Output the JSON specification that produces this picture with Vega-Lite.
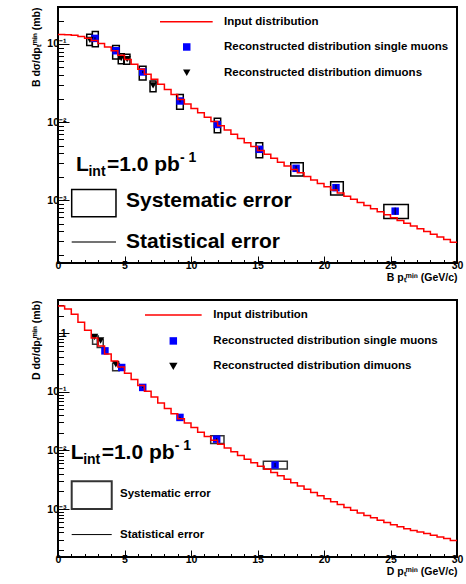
{
  "$schema": "https://vega.github.io/schema/vega-lite/v6.json",
  "background": "white",
  "padding": {"left": 30, "top": 5, "right": 4, "bottom": 4},
  "spacing": 14,
  "config": {
    "font": "Liberation Sans",
    "view": {"stroke": "black", "strokeWidth": 2},
    "axis": {"labelFont": "Liberation Sans", "labelFontWeight": "bold", "labelFontSize": 10.5, "labelColor": "black", "titleFont": "Liberation Sans", "titleFontWeight": "bold", "titleFontSize": 10.5, "titleColor": "black", "domain": false, "grid": false, "tickColor": "black", "tickWidth": 1, "zindex": 1, "labelFlush": false, "labelOverlap": false}
  },
  "datasets": {
    "curveTop": [
      {"x": 0, "v": 0.1326}, {"x": 0.5, "v": 0.1317}, {"x": 1, "v": 0.1291}, {"x": 1.5, "v": 0.125}, {"x": 2, "v": 0.1189}, {"x": 2.5, "v": 0.1109}, {"x": 3, "v": 0.1017}, {"x": 3.5, "v": 0.0917}, {"x": 4, "v": 0.0818}, {"x": 4.5, "v": 0.072},
      {"x": 5, "v": 0.0631}, {"x": 5.5, "v": 0.055}, {"x": 6, "v": 0.0476}, {"x": 6.5, "v": 0.041}, {"x": 7, "v": 0.0353}, {"x": 7.5, "v": 0.0304}, {"x": 8, "v": 0.0262}, {"x": 8.5, "v": 0.0225}, {"x": 9, "v": 0.0195}, {"x": 9.5, "v": 0.017},
      {"x": 10, "v": 0.01488}, {"x": 10.5, "v": 0.01311}, {"x": 11, "v": 0.01155}, {"x": 11.5, "v": 0.01017}, {"x": 12, "v": 0.00897}, {"x": 12.5, "v": 0.0079}, {"x": 13, "v": 0.00696}, {"x": 13.5, "v": 0.00613}, {"x": 14, "v": 0.00543}, {"x": 14.5, "v": 0.00484},
      {"x": 15, "v": 0.00432}, {"x": 15.5, "v": 0.00385}, {"x": 16, "v": 0.00343}, {"x": 16.5, "v": 0.00305}, {"x": 17, "v": 0.00274}, {"x": 17.5, "v": 0.00247}, {"x": 18, "v": 0.00223}, {"x": 18.5, "v": 0.00201}, {"x": 19, "v": 0.00181}, {"x": 19.5, "v": 0.00163},
      {"x": 20, "v": 0.00148}, {"x": 20.5, "v": 0.00135}, {"x": 21, "v": 0.00123}, {"x": 21.5, "v": 0.00112}, {"x": 22, "v": 0.001023}, {"x": 22.5, "v": 0.000933}, {"x": 23, "v": 0.000851}, {"x": 23.5, "v": 0.000776}, {"x": 24, "v": 0.000708}, {"x": 24.5, "v": 0.000646},
      {"x": 25, "v": 0.000592}, {"x": 25.5, "v": 0.000546}, {"x": 26, "v": 0.000504}, {"x": 26.5, "v": 0.000465}, {"x": 27, "v": 0.000429}, {"x": 27.5, "v": 0.000396}, {"x": 28, "v": 0.000365}, {"x": 28.5, "v": 0.000337}, {"x": 29, "v": 0.000311}, {"x": 29.5, "v": 0.000287},
      {"x": 30, "v": 0.000287}
    ],
    "curveBot": [
      {"x": 0, "v": 2.917}, {"x": 0.5, "v": 2.6}, {"x": 1, "v": 2.101}, {"x": 1.5, "v": 1.54}, {"x": 2, "v": 1.128}, {"x": 2.5, "v": 0.827}, {"x": 3, "v": 0.606}, {"x": 3.5, "v": 0.444}, {"x": 4, "v": 0.337}, {"x": 4.5, "v": 0.2646},
      {"x": 5, "v": 0.2077}, {"x": 5.5, "v": 0.1631}, {"x": 6, "v": 0.1288}, {"x": 6.5, "v": 0.1023}, {"x": 7, "v": 0.0813}, {"x": 7.5, "v": 0.0646}, {"x": 8, "v": 0.0519}, {"x": 8.5, "v": 0.0422}, {"x": 9, "v": 0.0349}, {"x": 9.5, "v": 0.0293},
      {"x": 10, "v": 0.02455}, {"x": 10.5, "v": 0.02042}, {"x": 11, "v": 0.01728}, {"x": 11.5, "v": 0.01488}, {"x": 12, "v": 0.01281}, {"x": 12.5, "v": 0.01103}, {"x": 13, "v": 0.0095}, {"x": 13.5, "v": 0.00818}, {"x": 14, "v": 0.00708}, {"x": 14.5, "v": 0.00617},
      {"x": 15, "v": 0.0054}, {"x": 15.5, "v": 0.00476}, {"x": 16, "v": 0.00419}, {"x": 16.5, "v": 0.00369}, {"x": 17, "v": 0.00324}, {"x": 17.5, "v": 0.00282}, {"x": 18, "v": 0.00247}, {"x": 18.5, "v": 0.00218}, {"x": 19, "v": 0.00192}, {"x": 19.5, "v": 0.00169},
      {"x": 20, "v": 0.0015}, {"x": 20.5, "v": 0.00133}, {"x": 21, "v": 0.00119}, {"x": 21.5, "v": 0.00106}, {"x": 22, "v": 0.00095}, {"x": 22.5, "v": 0.000856}, {"x": 23, "v": 0.000776}, {"x": 23.5, "v": 0.000708}, {"x": 24, "v": 0.000646}, {"x": 24.5, "v": 0.000589},
      {"x": 25, "v": 0.00054}, {"x": 25.5, "v": 0.000498}, {"x": 26, "v": 0.000462}, {"x": 26.5, "v": 0.000432}, {"x": 27, "v": 0.000405}, {"x": 27.5, "v": 0.000382}, {"x": 28, "v": 0.000359}, {"x": 28.5, "v": 0.000335}, {"x": 29, "v": 0.000313}, {"x": 29.5, "v": 0.000292},
      {"x": 30, "v": 0.000292}
    ],
    "ptsTop": [
      {"kind": "single", "pt": 2.78, "v": 0.118, "lo": 0.114, "hi": 0.122}, {"kind": "single", "pt": 4.36, "v": 0.082, "lo": 0.0795, "hi": 0.0845}, {"kind": "single", "pt": 6.37, "v": 0.0438, "lo": 0.0423, "hi": 0.0453}, {"kind": "single", "pt": 9.17, "v": 0.0186, "lo": 0.0179, "hi": 0.0193}, {"kind": "single", "pt": 11.98, "v": 0.0093, "lo": 0.0089, "hi": 0.0097},
      {"kind": "single", "pt": 15.14, "v": 0.00447, "lo": 0.0042, "hi": 0.0047}, {"kind": "single", "pt": 17.9, "v": 0.00255, "lo": 0.00236, "hi": 0.00274}, {"kind": "single", "pt": 20.9, "v": 0.00144, "lo": 0.00132, "hi": 0.00157}, {"kind": "single", "pt": 25.35, "v": 0.00072, "lo": 0.00065, "hi": 0.0008},
      {"kind": "dimuon", "pt": 2.4, "v": 0.113, "lo": 0.11, "hi": 0.116}, {"kind": "dimuon", "pt": 4.75, "v": 0.066, "lo": 0.064, "hi": 0.068}, {"kind": "dimuon", "pt": 5.2, "v": 0.064, "lo": 0.062, "hi": 0.066}, {"kind": "dimuon", "pt": 7.15, "v": 0.0295, "lo": 0.0282, "hi": 0.0308}
    ],
    "ptsBot": [
      {"kind": "single", "pt": 3.53, "v": 0.5, "lo": 0.49, "hi": 0.51}, {"kind": "single", "pt": 4.79, "v": 0.26, "lo": 0.255, "hi": 0.265}, {"kind": "single", "pt": 6.37, "v": 0.119, "lo": 0.116, "hi": 0.122}, {"kind": "single", "pt": 9.17, "v": 0.0366, "lo": 0.0355, "hi": 0.0377}, {"kind": "single", "pt": 11.93, "v": 0.0156, "lo": 0.015, "hi": 0.0162}, {"kind": "single", "pt": 16.32, "v": 0.00564, "lo": 0.0052, "hi": 0.0061},
      {"kind": "dimuon", "pt": 2.75, "v": 0.86, "lo": 0.84, "hi": 0.88}, {"kind": "dimuon", "pt": 3.2, "v": 0.75, "lo": 0.73, "hi": 0.77}, {"kind": "dimuon", "pt": 4.35, "v": 0.295, "lo": 0.287, "hi": 0.303}
    ],
    "boxTop": [
      {"x1": 2.16, "x2": 2.58, "y1": 0.096, "y2": 0.133}, {"x1": 2.58, "x2": 3.03, "y1": 0.092, "y2": 0.145}, {"x1": 4.11, "x2": 4.61, "y1": 0.064, "y2": 0.096},
      {"x1": 4.53, "x2": 4.98, "y1": 0.056, "y2": 0.075}, {"x1": 4.94, "x2": 5.41, "y1": 0.055, "y2": 0.074}, {"x1": 6.11, "x2": 6.62, "y1": 0.0345, "y2": 0.052},
      {"x1": 6.92, "x2": 7.37, "y1": 0.0245, "y2": 0.0336}, {"x1": 8.92, "x2": 9.42, "y1": 0.01455, "y2": 0.0226}, {"x1": 11.75, "x2": 12.23, "y1": 0.0073, "y2": 0.01114},
      {"x1": 14.89, "x2": 15.39, "y1": 0.00348, "y2": 0.00543}, {"x1": 17.5, "x2": 18.44, "y1": 0.00203, "y2": 0.003}, {"x1": 20.5, "x2": 21.45, "y1": 0.00116, "y2": 0.00172},
      {"x1": 24.5, "x2": 26.34, "y1": 0.00058, "y2": 0.00088}
    ],
    "boxBot": [
      {"x1": 2.6, "x2": 3.03, "y1": 0.65, "y2": 0.9}, {"x1": 2.95, "x2": 3.4, "y1": 0.57, "y2": 0.79}, {"x1": 4.11, "x2": 4.61, "y1": 0.228, "y2": 0.308},
      {"x1": 11.48, "x2": 12.48, "y1": 0.0132, "y2": 0.0178}, {"x1": 15.44, "x2": 17.24, "y1": 0.00482, "y2": 0.00652}
    ]
  },
  "vconcat": [
    {
      "width": 399, "height": 256,
      "resolve": {"axis": {"x": "independent", "y": "independent"}},
      "layer": [
        {
          "data": {"values": [{}]},
          "mark": {"type": "point", "opacity": 0, "size": 0},
          "encoding": {
            "x": {"datum": 15, "type": "quantitative", "scale": {"domain": [0, 30], "nice": false, "zero": false},
              "axis": {"orient": "bottom", "values": [1,2,3,4,6,7,8,9,11,12,13,14,16,17,18,19,21,22,23,24,26,27,28,29], "tickSize": -3.5, "labels": false, "title": null}},
            "y": {"datum": 0.01, "type": "quantitative", "scale": {"type": "log", "domain": [0.000156, 0.298], "nice": false},
              "axis": {"orient": "left", "values": [0.0002,0.0003,0.0004,0.0005,0.0006,0.0007,0.0008,0.0009,0.002,0.003,0.004,0.005,0.006,0.007,0.008,0.009,0.02,0.03,0.04,0.05,0.06,0.07,0.08,0.09,0.2], "tickSize": -5.5, "labels": false, "title": null}}
          }
        },
        {
          "layer": [
            {
              "data": {"name": "boxTop"},
              "mark": {"type": "rect", "filled": false, "stroke": "black", "strokeWidth": 1.5},
              "encoding": {
                "x": {"field": "x1", "type": "quantitative", "scale": {"domain": [0, 30], "nice": false, "zero": false},
                  "axis": {"orient": "bottom", "values": [0,5,10,15,20,25,30], "tickSize": -7, "labelPadding": 4, "title": "B pₜᵐⁱⁿ (GeV/c)", "titleAnchor": "end", "titlePadding": 2}},
                "x2": {"field": "x2"},
                "y": {"field": "y1", "type": "quantitative", "scale": {"type": "log", "domain": [0.000156, 0.298], "nice": false},
                  "axis": {"orient": "left", "values": [0.001, 0.01, 0.1], "tickSize": -11, "labelPadding": 3, "labelExpr": "datum.value < 0.005 ? '10⁻³' : datum.value < 0.05 ? '10⁻²' : datum.value < 0.5 ? '10⁻¹' : '1'", "title": "B dσ/dpₜᵐⁱⁿ (mb)", "titleAnchor": "end", "titlePadding": 5}},
                "y2": {"field": "y2"}
              }
            },
            {
              "data": {"name": "ptsTop"},
              "transform": [{"filter": "datum.kind == 'single'"}],
              "mark": {"type": "square", "filled": true, "color": "#0000ff", "size": 56, "opacity": 1},
              "encoding": {"x": {"field": "pt", "type": "quantitative"}, "y": {"field": "v", "type": "quantitative"}}
            },
            {
              "data": {"name": "ptsTop"},
              "transform": [{"filter": "datum.kind == 'dimuon'"}],
              "mark": {"type": "point", "shape": "triangle-down", "filled": true, "color": "black", "size": 55, "opacity": 1},
              "encoding": {"x": {"field": "pt", "type": "quantitative"}, "y": {"field": "v", "type": "quantitative"}}
            },
            {
              "data": {"name": "ptsTop"},
              "mark": {"type": "rule", "color": "black", "strokeWidth": 1},
              "encoding": {"x": {"field": "pt", "type": "quantitative"}, "y": {"field": "lo", "type": "quantitative"}, "y2": {"field": "hi"}}
            },
            {
              "data": {"name": "curveTop"},
              "mark": {"type": "line", "interpolate": "step-after", "color": "#ff0000", "strokeWidth": 1.5},
              "encoding": {"x": {"field": "x", "type": "quantitative"}, "y": {"field": "v", "type": "quantitative"}}
            },
            {
              "data": {"values": [{}]},
              "mark": {"type": "rule", "color": "#ff0000", "strokeWidth": 1.5},
              "encoding": {"x": {"datum": 7.67, "type": "quantitative"}, "x2": {"datum": 11.63}, "y": {"datum": 0.193, "type": "quantitative"}}
            },
            {
              "data": {"values": [{}]},
              "mark": {"type": "square", "filled": true, "color": "#0000ff", "size": 56, "opacity": 1},
              "encoding": {"x": {"datum": 9.68, "type": "quantitative"}, "y": {"datum": 0.0916, "type": "quantitative"}}
            },
            {
              "data": {"values": [{}]},
              "mark": {"type": "point", "shape": "triangle-down", "filled": true, "color": "black", "size": 55, "opacity": 1},
              "encoding": {"x": {"datum": 9.68, "type": "quantitative"}, "y": {"datum": 0.0428, "type": "quantitative"}}
            },
            {
              "data": {"values": [{}]},
              "mark": {"type": "text", "align": "left", "baseline": "middle", "font": "Liberation Sans", "fontWeight": "bold", "fontSize": 11.5, "color": "black"},
              "encoding": {"x": {"datum": 12.48, "type": "quantitative"}, "y": {"datum": 0.193, "type": "quantitative"}, "text": {"value": "Input distribution"}}
            },
            {
              "data": {"values": [{}]},
              "mark": {"type": "text", "align": "left", "baseline": "middle", "font": "Liberation Sans", "fontWeight": "bold", "fontSize": 11.5, "color": "black"},
              "encoding": {"x": {"datum": 12.48, "type": "quantitative"}, "y": {"datum": 0.0916, "type": "quantitative"}, "text": {"value": "Reconstructed distribution single muons"}}
            },
            {
              "data": {"values": [{}]},
              "mark": {"type": "text", "align": "left", "baseline": "middle", "font": "Liberation Sans", "fontWeight": "bold", "fontSize": 11.5, "color": "black"},
              "encoding": {"x": {"datum": 12.48, "type": "quantitative"}, "y": {"datum": 0.0428, "type": "quantitative"}, "text": {"value": "Reconstructed distribution dimuons"}}
            },
            {
              "data": {"values": [{}]},
              "mark": {"type": "text", "align": "left", "baseline": "alphabetic", "font": "Liberation Sans", "fontWeight": "bold", "fontSize": 21, "color": "black"},
              "encoding": {"x": {"datum": 1.35, "type": "quantitative"}, "y": {"datum": 0.00235, "type": "quantitative"}, "text": {"value": "L"}}
            },
            {
              "data": {"values": [{}]},
              "mark": {"type": "text", "align": "left", "baseline": "alphabetic", "font": "Liberation Sans", "fontWeight": "bold", "fontSize": 14, "color": "black", "dx": 12.5, "dy": 5},
              "encoding": {"x": {"datum": 1.35, "type": "quantitative"}, "y": {"datum": 0.00235, "type": "quantitative"}, "text": {"value": "int"}}
            },
            {
              "data": {"values": [{}]},
              "mark": {"type": "text", "align": "left", "baseline": "alphabetic", "font": "Liberation Sans", "fontWeight": "bold", "fontSize": 21, "color": "black", "dx": 31},
              "encoding": {"x": {"datum": 1.35, "type": "quantitative"}, "y": {"datum": 0.00235, "type": "quantitative"}, "text": {"value": "=1.0 pb"}}
            },
            {
              "data": {"values": [{}]},
              "mark": {"type": "text", "align": "left", "baseline": "alphabetic", "font": "Liberation Sans", "fontWeight": "bold", "fontSize": 14, "color": "black", "dx": 104, "dy": -9},
              "encoding": {"x": {"datum": 1.35, "type": "quantitative"}, "y": {"datum": 0.00235, "type": "quantitative"}, "text": {"value": "- 1"}}
            },
            {
              "data": {"values": [{}]},
              "mark": {"type": "rect", "filled": false, "stroke": "black", "strokeWidth": 1.5},
              "encoding": {"x": {"datum": 1.03, "type": "quantitative"}, "x2": {"datum": 4.36}, "y": {"datum": 0.000611, "type": "quantitative"}, "y2": {"datum": 0.00137}}
            },
            {
              "data": {"values": [{}]},
              "mark": {"type": "rule", "color": "#444444", "strokeWidth": 1.5},
              "encoding": {"x": {"datum": 1.03, "type": "quantitative"}, "x2": {"datum": 4.36}, "y": {"datum": 0.00029, "type": "quantitative"}}
            },
            {
              "data": {"values": [{}]},
              "mark": {"type": "text", "align": "left", "baseline": "middle", "font": "Liberation Sans", "fontWeight": "bold", "fontSize": 21, "color": "black"},
              "encoding": {"x": {"datum": 5.11, "type": "quantitative"}, "y": {"datum": 0.00097, "type": "quantitative"}, "text": {"value": "Systematic error"}}
            },
            {
              "data": {"values": [{}]},
              "mark": {"type": "text", "align": "left", "baseline": "middle", "font": "Liberation Sans", "fontWeight": "bold", "fontSize": 21, "color": "black"},
              "encoding": {"x": {"datum": 5.11, "type": "quantitative"}, "y": {"datum": 0.00029, "type": "quantitative"}, "text": {"value": "Statistical error"}}
            }
          ]
        }
      ]
    },
    {
      "width": 399, "height": 257,
      "resolve": {"axis": {"x": "independent", "y": "independent"}},
      "layer": [
        {
          "data": {"values": [{}]},
          "mark": {"type": "point", "opacity": 0, "size": 0},
          "encoding": {
            "x": {"datum": 15, "type": "quantitative", "scale": {"domain": [0, 30], "nice": false, "zero": false},
              "axis": {"orient": "bottom", "values": [1,2,3,4,6,7,8,9,11,12,13,14,16,17,18,19,21,22,23,24,26,27,28,29], "tickSize": -3.5, "labels": false, "title": null}},
            "y": {"datum": 0.01, "type": "quantitative", "scale": {"type": "log", "domain": [0.000152, 3.69], "nice": false},
              "axis": {"orient": "left", "values": [0.0002,0.0003,0.0004,0.0005,0.0006,0.0007,0.0008,0.0009,0.002,0.003,0.004,0.005,0.006,0.007,0.008,0.009,0.02,0.03,0.04,0.05,0.06,0.07,0.08,0.09,0.2,0.3,0.4,0.5,0.6,0.7,0.8,0.9,2,3], "tickSize": -5.5, "labels": false, "title": null}}
          }
        },
        {
          "layer": [
            {
              "data": {"name": "boxBot"},
              "mark": {"type": "rect", "filled": false, "stroke": "#333333", "strokeWidth": 1.5},
              "encoding": {
                "x": {"field": "x1", "type": "quantitative", "scale": {"domain": [0, 30], "nice": false, "zero": false},
                  "axis": {"orient": "bottom", "values": [0,5,10,15,20,25,30], "tickSize": -7, "labelPadding": 4, "title": "D pₜᵐⁱⁿ (GeV/c)", "titleAnchor": "end", "titlePadding": 2}},
                "x2": {"field": "x2"},
                "y": {"field": "y1", "type": "quantitative", "scale": {"type": "log", "domain": [0.000152, 3.69], "nice": false},
                  "axis": {"orient": "left", "values": [0.001, 0.01, 0.1, 1], "tickSize": -11, "labelPadding": 3, "labelExpr": "datum.value < 0.005 ? '10⁻³' : datum.value < 0.05 ? '10⁻²' : datum.value < 0.5 ? '10⁻¹' : '1'", "title": "D dσ/dpₜᵐⁱⁿ (mb)", "titleAnchor": "end", "titlePadding": 5}},
                "y2": {"field": "y2"}
              }
            },
            {
              "data": {"name": "ptsBot"},
              "transform": [{"filter": "datum.kind == 'single'"}],
              "mark": {"type": "square", "filled": true, "color": "#0000ff", "size": 56, "opacity": 1},
              "encoding": {"x": {"field": "pt", "type": "quantitative"}, "y": {"field": "v", "type": "quantitative"}}
            },
            {
              "data": {"name": "ptsBot"},
              "transform": [{"filter": "datum.kind == 'dimuon'"}],
              "mark": {"type": "point", "shape": "triangle-down", "filled": true, "color": "black", "size": 55, "opacity": 1},
              "encoding": {"x": {"field": "pt", "type": "quantitative"}, "y": {"field": "v", "type": "quantitative"}}
            },
            {
              "data": {"name": "ptsBot"},
              "mark": {"type": "rule", "color": "black", "strokeWidth": 1},
              "encoding": {"x": {"field": "pt", "type": "quantitative"}, "y": {"field": "lo", "type": "quantitative"}, "y2": {"field": "hi"}}
            },
            {
              "data": {"name": "curveBot"},
              "mark": {"type": "line", "interpolate": "step-after", "color": "#ff0000", "strokeWidth": 1.5},
              "encoding": {"x": {"field": "x", "type": "quantitative"}, "y": {"field": "v", "type": "quantitative"}}
            },
            {
              "data": {"values": [{}]},
              "mark": {"type": "rule", "color": "#ff0000", "strokeWidth": 1.5},
              "encoding": {"x": {"datum": 6.54, "type": "quantitative"}, "x2": {"datum": 10.8}, "y": {"datum": 2.05, "type": "quantitative"}}
            },
            {
              "data": {"values": [{}]},
              "mark": {"type": "square", "filled": true, "color": "#0000ff", "size": 56, "opacity": 1},
              "encoding": {"x": {"datum": 8.67, "type": "quantitative"}, "y": {"datum": 0.739, "type": "quantitative"}}
            },
            {
              "data": {"values": [{}]},
              "mark": {"type": "point", "shape": "triangle-down", "filled": true, "color": "black", "size": 70, "opacity": 1},
              "encoding": {"x": {"datum": 8.67, "type": "quantitative"}, "y": {"datum": 0.271, "type": "quantitative"}}
            },
            {
              "data": {"values": [{}]},
              "mark": {"type": "text", "align": "left", "baseline": "middle", "font": "Liberation Sans", "fontWeight": "bold", "fontSize": 11.5, "color": "black"},
              "encoding": {"x": {"datum": 11.68, "type": "quantitative"}, "y": {"datum": 2.05, "type": "quantitative"}, "text": {"value": "Input distribution"}}
            },
            {
              "data": {"values": [{}]},
              "mark": {"type": "text", "align": "left", "baseline": "middle", "font": "Liberation Sans", "fontWeight": "bold", "fontSize": 11.5, "color": "black"},
              "encoding": {"x": {"datum": 11.68, "type": "quantitative"}, "y": {"datum": 0.739, "type": "quantitative"}, "text": {"value": "Reconstructed distribution single muons"}}
            },
            {
              "data": {"values": [{}]},
              "mark": {"type": "text", "align": "left", "baseline": "middle", "font": "Liberation Sans", "fontWeight": "bold", "fontSize": 11.5, "color": "black"},
              "encoding": {"x": {"datum": 11.68, "type": "quantitative"}, "y": {"datum": 0.271, "type": "quantitative"}, "text": {"value": "Reconstructed distribution dimuons"}}
            },
            {
              "data": {"values": [{}]},
              "mark": {"type": "text", "align": "left", "baseline": "alphabetic", "font": "Liberation Sans", "fontWeight": "bold", "fontSize": 21, "color": "black"},
              "encoding": {"x": {"datum": 0.95, "type": "quantitative"}, "y": {"datum": 0.00713, "type": "quantitative"}, "text": {"value": "L"}}
            },
            {
              "data": {"values": [{}]},
              "mark": {"type": "text", "align": "left", "baseline": "alphabetic", "font": "Liberation Sans", "fontWeight": "bold", "fontSize": 14, "color": "black", "dx": 12.5, "dy": 5},
              "encoding": {"x": {"datum": 0.95, "type": "quantitative"}, "y": {"datum": 0.00713, "type": "quantitative"}, "text": {"value": "int"}}
            },
            {
              "data": {"values": [{}]},
              "mark": {"type": "text", "align": "left", "baseline": "alphabetic", "font": "Liberation Sans", "fontWeight": "bold", "fontSize": 21, "color": "black", "dx": 31},
              "encoding": {"x": {"datum": 0.95, "type": "quantitative"}, "y": {"datum": 0.00713, "type": "quantitative"}, "text": {"value": "=1.0 pb"}}
            },
            {
              "data": {"values": [{}]},
              "mark": {"type": "text", "align": "left", "baseline": "alphabetic", "font": "Liberation Sans", "fontWeight": "bold", "fontSize": 14, "color": "black", "dx": 104, "dy": -9},
              "encoding": {"x": {"datum": 0.95, "type": "quantitative"}, "y": {"datum": 0.00713, "type": "quantitative"}, "text": {"value": "- 1"}}
            },
            {
              "data": {"values": [{}]},
              "mark": {"type": "rect", "filled": false, "stroke": "#333333", "strokeWidth": 2},
              "encoding": {"x": {"datum": 1.03, "type": "quantitative"}, "x2": {"datum": 4.04}, "y": {"datum": 0.001004, "type": "quantitative"}, "y2": {"datum": 0.00298}}
            },
            {
              "data": {"values": [{}]},
              "mark": {"type": "rule", "color": "black", "strokeWidth": 1},
              "encoding": {"x": {"datum": 1.03, "type": "quantitative"}, "x2": {"datum": 4.04}, "y": {"datum": 0.000367, "type": "quantitative"}}
            },
            {
              "data": {"values": [{}]},
              "mark": {"type": "text", "align": "left", "baseline": "middle", "font": "Liberation Sans", "fontWeight": "bold", "fontSize": 11.5, "color": "black"},
              "encoding": {"x": {"datum": 4.66, "type": "quantitative"}, "y": {"datum": 0.00181, "type": "quantitative"}, "text": {"value": "Systematic error"}}
            },
            {
              "data": {"values": [{}]},
              "mark": {"type": "text", "align": "left", "baseline": "middle", "font": "Liberation Sans", "fontWeight": "bold", "fontSize": 11.5, "color": "black"},
              "encoding": {"x": {"datum": 4.66, "type": "quantitative"}, "y": {"datum": 0.000367, "type": "quantitative"}, "text": {"value": "Statistical error"}}
            }
          ]
        }
      ]
    }
  ]
}
